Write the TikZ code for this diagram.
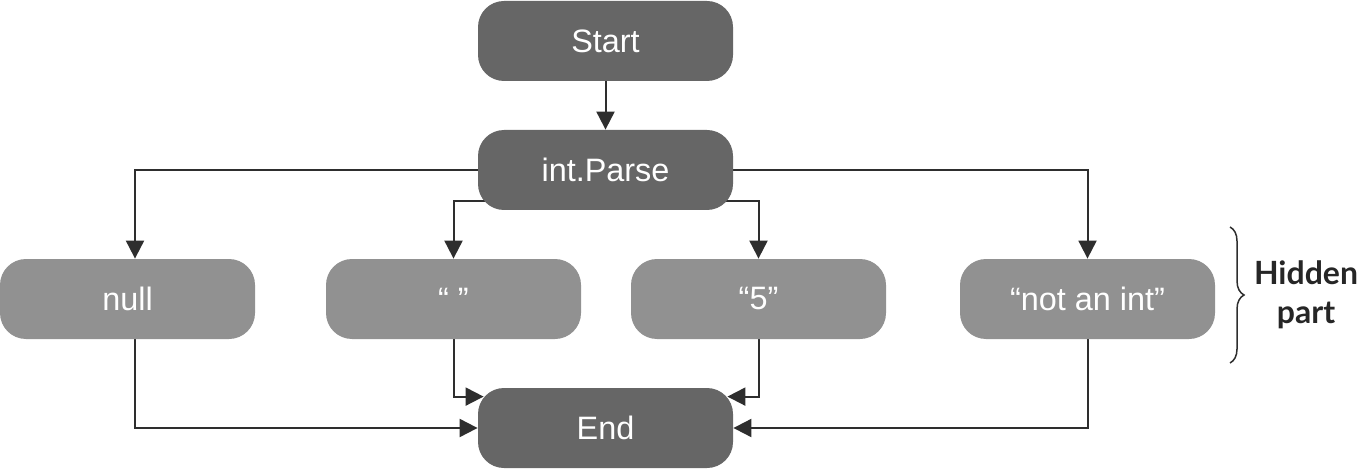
\documentclass[tikz,border=0pt]{standalone}
\usepackage{fontspec}
\setmainfont{Liberation Sans}
\newfontfamily\hidfont{Lato}
\usetikzlibrary{arrows.meta,decorations.pathreplacing,backgrounds}
\definecolor{darkbox}{HTML}{666666}
\definecolor{lightbox}{HTML}{919191}
\definecolor{linec}{HTML}{2E2E2E}
\begin{document}
\begin{tikzpicture}[x=0.5pt,y=-0.5pt,
  box/.style={rounded corners=13pt, minimum width=127.5pt, minimum height=40pt, inner sep=0pt, text=white, font=\fontsize{16.2}{19}\selectfont},
  dbox/.style={box, fill=darkbox},
  lbox/.style={box, fill=lightbox},
  conn/.style={draw=linec, line width=1pt, -{Triangle[length=9pt,width=9pt]}}]
\useasboundingbox (0,0) rectangle (1358,470);
\node[dbox] (start) at (605.5,41) {Start};
\node[dbox] (parse) at (605.5,170) {int.Parse};
\node[lbox] (null) at (127.5,299) {null};
\node[lbox] (empty) at (453.5,299) {“ ”};
\node[lbox] (five) at (758.5,299) {“5”};
\node[lbox] (notint) at (1087.5,299) {“not an int”};
\node[dbox] (end) at (605.5,428) {End};
\begin{scope}[on background layer]
\draw[conn] (start.south) -- (parse.north);
\draw[conn] (parse.west) -| ([xshift=3.75pt]null.north);
\draw[conn] (parse.east) -| (notint.north);
\draw[conn] ([xshift=4pt,yshift=4.5pt]parse.south west) -| (empty.north);
\draw[conn] ([xshift=-4pt,yshift=4.5pt]parse.south east) -| (five.north);
\draw[conn] ([xshift=3.75pt]null.south) |- (end.west);
\draw[conn] (empty.south) |- ([xshift=3pt,yshift=-4.5pt]end.north west);
\draw[conn] (five.south) |- ([xshift=-3pt,yshift=-4.5pt]end.north east);
\draw[conn] (notint.south) |- (end.east);
\end{scope}
\coordinate (bt) at (1230,227);
\coordinate (bb) at (1230,363);
\draw[linec, line width=0.75pt, decorate, decoration={brace, amplitude=7pt}] (bt) -- (bb);
\node[text=black!85, font=\hidfont\bfseries\fontsize{16}{19.5}\selectfont, align=center, inner sep=0pt] (hid) at (1306,295) {Hidden\\part};
\end{tikzpicture}
\end{document}
